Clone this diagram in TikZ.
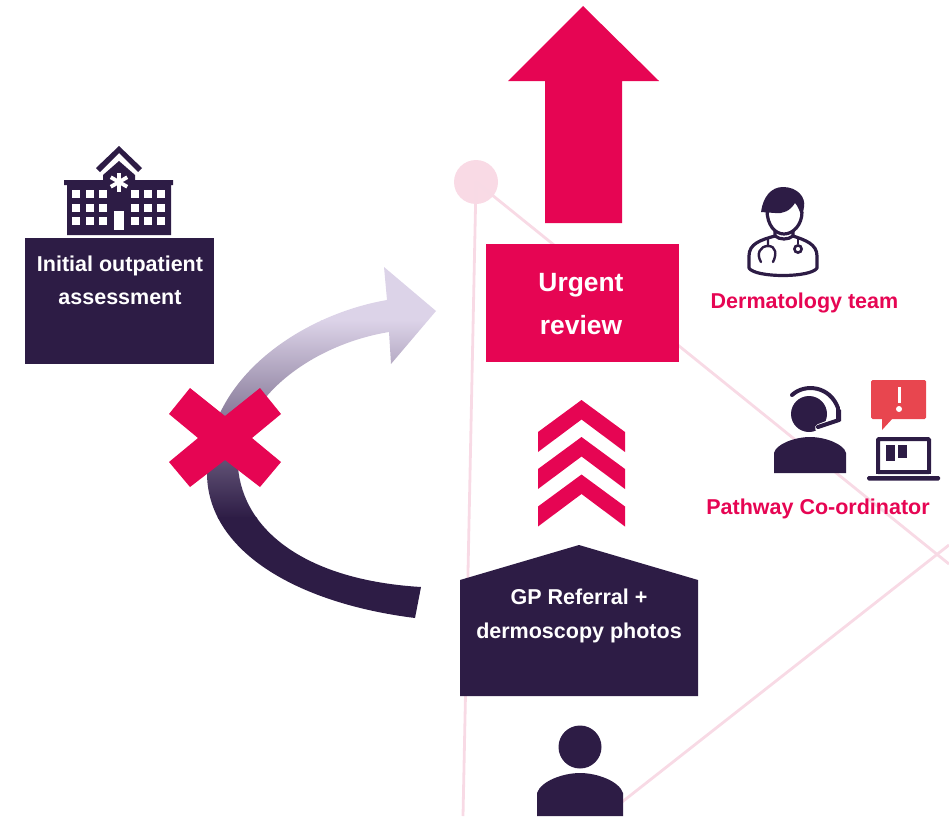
\documentclass[tikz,border=0pt]{standalone}
\usepackage{fontspec}
\setmainfont{Liberation Sans}
\definecolor{dark}{HTML}{2D1C45}
\definecolor{hot}{HTML}{E60553}
\definecolor{lilac}{HTML}{DCD3E8}
\definecolor{pinkline}{HTML}{F8DAE5}
\definecolor{pinkdot}{HTML}{F9DAE5}
\definecolor{alert}{HTML}{E8464F}
\tikzset{
  px/.style={x=1pt,y=-1pt},
  net/.style={draw=pinkline,line width=2.8pt},
  darkfill/.style={fill=dark,draw=none},
  hotfill/.style={fill=hot,draw=none},
  wfill/.style={fill=white,draw=none},
  icon/.style={draw=dark,line width=3.2pt,line cap=round,line join=round},
  whitetxt/.style={text=white,font=\bfseries\fontsize{26.4}{30}\selectfont,align=center,inner sep=0pt},
  whitesm/.style={text=white,font=\bfseries\fontsize{21.5}{25}\selectfont,align=center,inner sep=0pt},
  hottxt/.style={text=hot,font=\bfseries\fontsize{21.5}{25}\selectfont,inner sep=0pt},
}
\begin{document}
\begin{tikzpicture}[px]
\useasboundingbox (0,0) rectangle (949,816);
% network
\node[circle,fill=pinkdot,draw=none,minimum size=44pt,inner sep=0pt] (hub) at (476,182) {};
\coordinate (a) at (463,816);
\coordinate (b) at (949,564);
\coordinate (c) at (949,545);
\coordinate (d) at (622,802);
\draw[net] (hub.center) -- (a);
\draw[net] (hub.center) -- (b);
\draw[net] (c) -- (d);
% big arrow
\fill[hotfill] (583,6) -- (659,81) -- (622,81) -- (622,223) -- (545,223) -- (545,81) -- (508,81) -- cycle;
% urgent box
\node[hotfill,minimum width=193pt,minimum height=118pt,inner sep=0pt] (urgent) at (582.5,303) {};
\node[whitetxt] at (581,285) {Urgent};
\node[whitetxt] at (581,325) {review};
% chevrons
\foreach \o in {0,37,74.5}{
  \fill[hotfill,shift={(0,\o)}] (581.5,400) -- (625,432) -- (625,452) -- (581.5,419.5) -- (538,452) -- (538,432) -- cycle;
}
% GP box
\fill[darkfill] (460,696) -- (460,580) -- (579,545) -- (698,580) -- (698,696) -- cycle;
\node[whitesm] at (579,597) {GP Referral +};
\node[whitesm] at (579,632.5) {dermoscopy photos};
% left box
\node[darkfill,minimum width=189pt,minimum height=126pt,inner sep=0pt] (init) at (119.5,301) {};
\node[whitesm] at (120,266) {Initial outpatient};
\node[whitesm] at (120,298) {assessment};
% curved arrow
\begin{scope}
\clip (421,587) .. controls (305,580) and (243,530) .. (238,467)
  .. controls (238,400) and (310,345) .. (389,332)
  -- (391,364) -- (436,311) -- (384,267) -- (387,300)
  .. controls (300,315) and (205,380) .. (207,473)
  .. controls (207,550) and (295,603) .. (415,618) -- cycle;
\fill[lilac] (150,250) rectangle (450,321);
\shade[top color=lilac,bottom color=dark,shading angle=0] (150,320) rectangle (450,518);
\fill[dark] (150,517) rectangle (450,630);
\end{scope}
% cross
\fill[hotfill] (190,388) -- (225,416) -- (260,388) -- (281,414) -- (252,438) -- (281,462) -- (260,487) -- (225,460) -- (190,487) -- (169,462) -- (198,438) -- (169,414) -- cycle;
% hospital
\fill[darkfill] (119,146) -- (142,168) -- (138,172) -- (119,153) -- (100,172) -- (96,168) -- cycle;
\fill[darkfill] (119,161) -- (135,175) -- (135,180) -- (173,180) -- (173,185) -- (171,185) -- (171,235) -- (67,235) -- (67,185) -- (64,185) -- (64,180) -- (103,180) -- (103,175) -- cycle;
\foreach \x in {72.3,85.7,99,130.7,144,157.3}{
  \foreach \y in {190.3,203.7,217}{
    \fill[wfill] (\x,\y) rectangle +(8,8);
  }
}
\fill[wfill] (113.7,211.3) rectangle (124,230);
\foreach \ang in {90,30,-30}{
  \draw[white,line width=3.8pt] (119,182) ++(\ang:9.5) -- ++(\ang+180:19);
}
% doctor
\draw[icon] (767,210) .. controls (767,225) and (775,234) .. (784,234) .. controls (793,234) and (802,225) .. (802,212);
\fill[darkfill] (761,212) .. controls (763,197) and (771,187) .. (783,187)
  .. controls (797,187) and (806,197) .. (804,207) -- (802,218)
  .. controls (800,212) and (798,206) .. (795,203) .. controls (790,211) and (783,214) .. (775,213) -- cycle;
\draw[icon] (775,231) -- (775,236) .. controls (760,240) and (749,244) .. (749,256) -- (749,268)
  .. controls (755,278) and (811,278) .. (817,268) -- (817,256) .. controls (817,244) and (805,240) .. (793,236) -- (793,231);
\draw[icon] (775,236) .. controls (780,240) and (788,240) .. (793,236);
\draw[draw=dark,line width=2.4pt,line cap=round] (768,238) -- (768,246) (761,262) .. controls (756,254) and (760,246) .. (768,246) .. controls (776,246) and (777,254) .. (773,262);
\draw[draw=dark,line width=2.4pt] (798,238) -- (798,244);
\draw[draw=dark,line width=2.6pt,fill=white] (798,249) circle (3.6);
\node[hottxt] at (804.5,303) {Dermatology team};
% coordinator
\fill[darkfill] (809,414) circle (18);
\draw[draw=white,line width=8pt,line cap=round] (840,420) -- (819,428);
\fill[wfill] (815,431) -- (815,436) -- (830,436) -- (830,425) -- cycle;
\draw[icon,line width=4pt] (792,395) .. controls (805,383) and (830,386) .. (838,408);
\fill[darkfill] (836,406) -- (841,410) -- (841,421) -- (836,422) -- cycle;
\draw[icon,line width=4pt] (839,420) -- (818,427);
\fill[darkfill] (774,473) -- (774,453) .. controls (776,444) and (795,437) .. (810,437) .. controls (825,437) and (844,444) .. (846,453) -- (846,473) -- cycle;
% alert
\fill[fill=alert,rounded corners=1.5pt] (871,380) rectangle (926,419);
\fill[fill=alert] (882,418) -- (882,430) -- (893,418) -- cycle;
\fill[wfill] (897.5,387) rectangle (900.5,403);
\fill[wfill] (899,409) circle (3);
% laptop
\draw[draw=dark,line width=4pt,rounded corners=1pt] (878,439) rectangle (929,472);
\fill[darkfill] (876,470) rectangle (931,474);
\fill[darkfill] (886,445) rectangle (895,461);
\fill[darkfill] (898,445) rectangle (907,458);
\fill[darkfill,rounded corners=1.5pt] (867,476) rectangle (940,480.5);
\node[hottxt] at (818,509) {Pathway Co-ordinator};
% patient
\fill[darkfill] (580,747) circle (21.5);
\fill[darkfill] (537,816) -- (537,793) .. controls (541,781) and (563,773) .. (580,773) .. controls (597,773) and (619,781) .. (623,793) -- (623,816) -- cycle;
\end{tikzpicture}
\end{document}
